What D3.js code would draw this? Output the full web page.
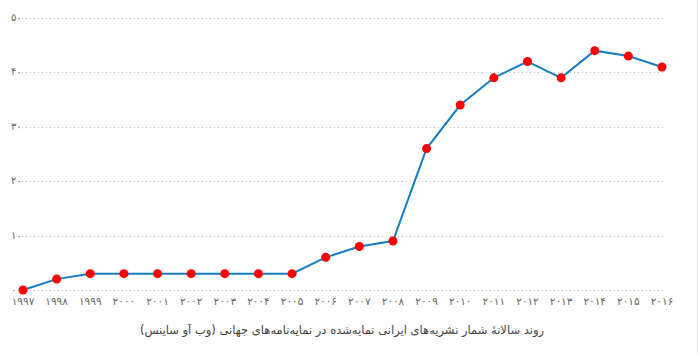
<!DOCTYPE html>
<html>
<head>
<meta charset="utf-8">
<script src="https://cdnjs.cloudflare.com/ajax/libs/d3/7.8.5/d3.min.js"></script>
<style>
  body { margin: 0; background: #fff; }
  svg { display: block; }
</style>
</head>
<body>
<script>
var years = [1997, 1998, 1999, 2000, 2001, 2002, 2003, 2004, 2005, 2006,
  2007, 2008, 2009, 2010, 2011, 2012, 2013, 2014, 2015, 2016];
var journals = [0, 2, 3, 3, 3, 3, 3, 3, 3, 6, 8, 9, 26, 34, 39, 42, 39, 44, 43, 41];
var yTicks = [0, 10, 20, 30, 40, 50];
var title = "روند سالانهٔ شمار نشریه‌های ایرانی نمایه‌شده در نمایه‌نامه‌های جهانی (وب آو ساینس)";

var faDigits = "۰۱۲۳۴۵۶۷۸۹";
function fa(n) {
  return String(n).replace(/[0-9]/g, function(d) { return faDigits[+d]; });
}

var width = 700, height = 353;
var svg = d3.select("body").append("svg")
  .attr("width", width)
  .attr("height", height);

// light border on the right edge
svg.append("line")
  .attr("x1", 697.5).attr("x2", 697.5)
  .attr("y1", 0).attr("y2", height)
  .attr("stroke", "#ececec");

var xScale = d3.scalePoint()
  .domain(years)
  .range([23, 662]);

var yScale = d3.scaleLinear()
  .domain([0, 50])
  .range([290, 18]);

// grid lines
svg.append("g")
  .selectAll("line")
  .data(yTicks)
  .enter().append("line")
  .attr("x1", 22)
  .attr("x2", 666)
  .attr("y1", function(d) { return Math.round(yScale(d)) + 0.5; })
  .attr("y2", function(d) { return Math.round(yScale(d)) + 0.5; })
  .attr("stroke", "#bbb")
  .attr("stroke-width", 1)
  .attr("stroke-dasharray", "1,3");

// y labels
svg.append("g")
  .selectAll("text")
  .data(yTicks)
  .enter().append("text")
  .attr("x", 11)
  .attr("y", function(d) { return yScale(d) + 3; })
  .attr("font-family", "DejaVu Sans, sans-serif")
  .attr("font-size", 10)
  .attr("letter-spacing", 1)
  .attr("fill", "#666")
  .text(function(d) { return fa(d); });

// x labels
svg.append("g")
  .selectAll("text")
  .data(years)
  .enter().append("text")
  .attr("x", function(d) { return xScale(d); })
  .attr("y", 305)
  .attr("text-anchor", "middle")
  .attr("font-family", "DejaVu Sans, sans-serif")
  .attr("font-size", 10.5)
  .attr("letter-spacing", 1.5)
  .attr("fill", "#666")
  .text(function(d) { return fa(d); });

var line = d3.line()
  .x(function(d, i) { return xScale(years[i]); })
  .y(function(d) { return yScale(d); });

svg.append("path")
  .datum(journals)
  .attr("d", line)
  .attr("fill", "none")
  .attr("stroke", "#167cc4")
  .attr("stroke-width", 2);

svg.append("g")
  .selectAll("circle")
  .data(journals)
  .enter().append("circle")
  .attr("cx", function(d, i) { return xScale(years[i]); })
  .attr("cy", function(d) { return yScale(d); })
  .attr("r", 4.5)
  .attr("fill", "#ff0000");

svg.append("text")
  .attr("x", 342)
  .attr("y", 334)
  .attr("text-anchor", "middle")
  .attr("direction", "rtl")
  .attr("font-family", "DejaVu Sans, sans-serif")
  .attr("font-size", 11.5)
  .attr("fill", "#444")
  .text(title);
</script>
</body>
</html>
